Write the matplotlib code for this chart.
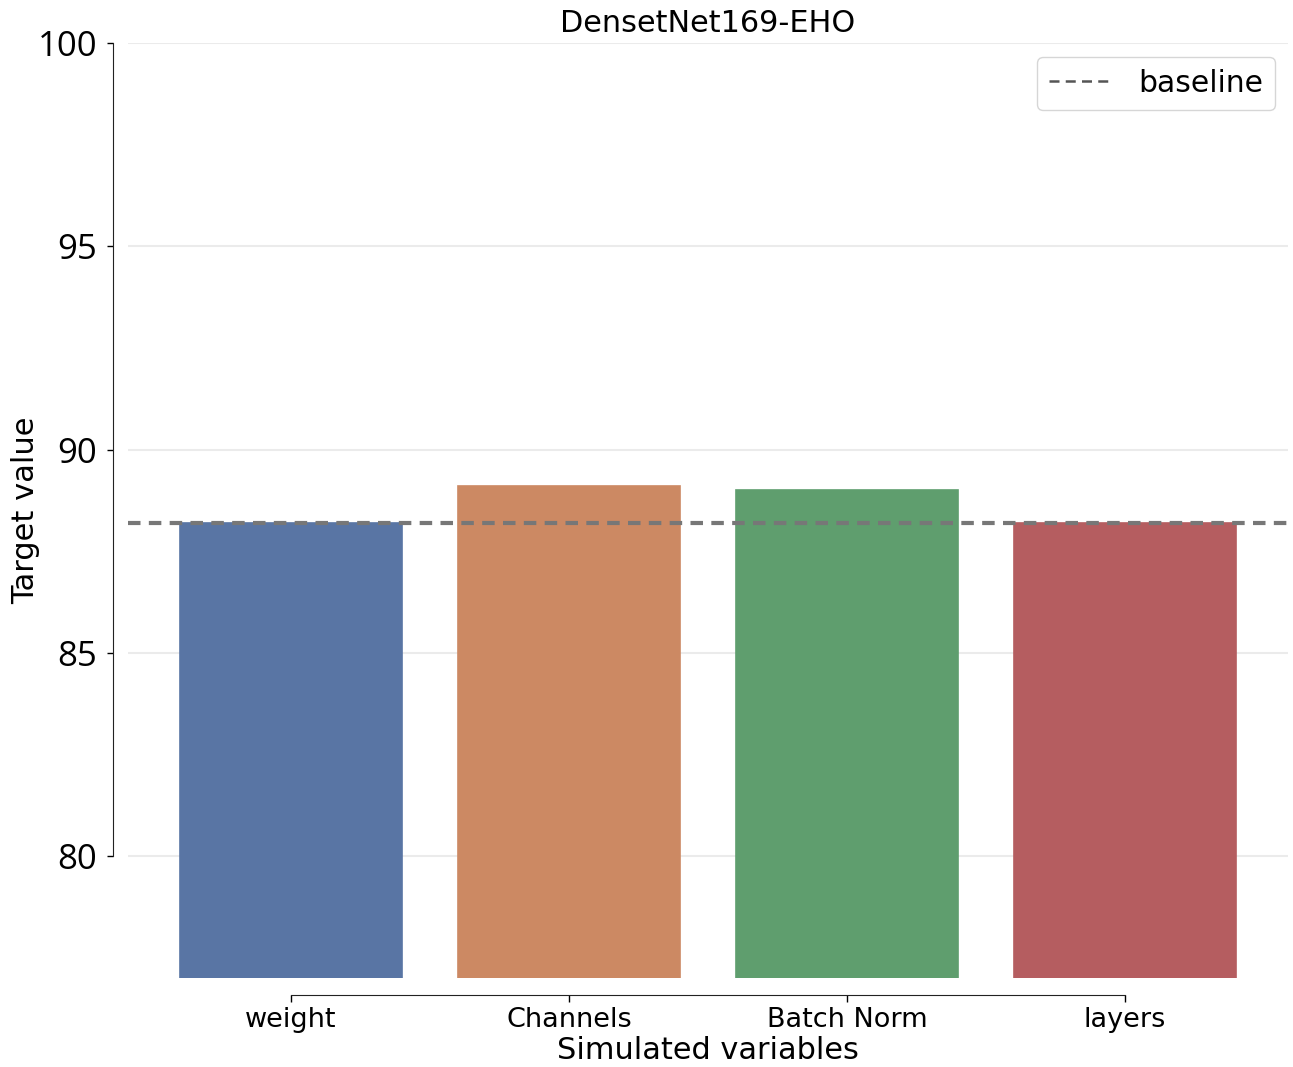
import numpy as np
import matplotlib.pyplot as plt
import seaborn as sns

# values
variables = ['weight', 'Channels', 'Batch Norm', 'layers']
target_values = [88.2, 89.1, 89.0, 88.2]
baseline = 88.2
y_ticks = [80, 85, 90, 95, 100]

palette = [sns.desaturate(c, 0.75) for c in sns.color_palette('deep', 4)]

fig = plt.figure(figsize=(12.93, 10.67), dpi=100)
ax = fig.add_axes([0.099, 0.0834, 0.897, 0.8763])

x = np.arange(len(variables))
ax.bar(x, target_values, width=0.8, bottom=0, color=palette,
       edgecolor=palette, linewidth=1.2, zorder=2)
ax.axhline(baseline, color='#777777', linestyle='--', linewidth=3,
           dashes=(3, 2), zorder=3)

ax.set_xlim(-0.586, 3.586)
ax.set_ylim(77, 100)
ax.set_yticks(y_ticks)
ax.set_xticks(x, variables)
ax.tick_params(axis='y', length=4, width=1, pad=7, labelsize=25,
               labelfontfamily='Open Sans')
ax.tick_params(axis='x', length=5, width=1, pad=4, labelsize=19.5)

ax.yaxis.grid(True, color='#ebebeb', linewidth=1.5, zorder=0)
ax.set_axisbelow(True)

for side in ['top', 'right']:
    ax.spines[side].set_visible(False)
ax.spines['left'].set_position(('outward', 11))
ax.spines['bottom'].set_position(('outward', 12))
ax.spines['left'].set_bounds(80, 100)
ax.spines['bottom'].set_bounds(0, 3)
ax.spines['left'].set_color('#222222')
ax.spines['bottom'].set_color('#222222')

ax.set_title('DensetNet169-EHO', fontsize=21.8, pad=8)
ax.set_xlabel('Simulated variables', fontsize=21.9, labelpad=2)
ax.set_ylabel('Target value', fontsize=22, labelpad=-2)

# legend handle is thinner than the plotted line
handle = plt.Line2D([], [], color='#555555', linestyle='--', linewidth=1.8,
                    dashes=(4, 2.5))
leg = ax.legend([handle], ['baseline'], loc='upper right', fontsize=21.5,
                handlelength=2.2, borderpad=0.4,
                bbox_to_anchor=(1.002, 1.001))
leg.get_frame().set_linewidth(1)

fig.savefig('out.png', dpi=100)
